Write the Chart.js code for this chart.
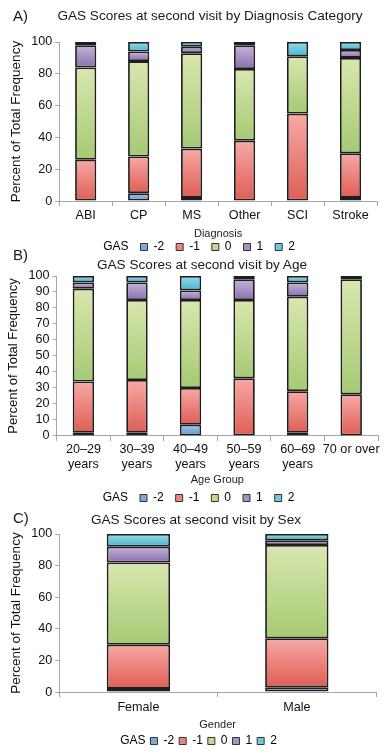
<!DOCTYPE html>
<html>
<head>
<meta charset="utf-8">
<script src="https://cdn.jsdelivr.net/npm/chart.js@4.4.0/dist/chart.umd.min.js"></script>
<style>
  body { margin: 0; background: #fff; font-family: "Liberation Sans", Arial, sans-serif; color: #1a1a1a; }
  .panel { position: absolute; left: 0; width: 386px; }
  .tag { position: absolute; left: 13px; font-size: 15px; line-height: 18px; }
  .title { position: absolute; font-size: 13.6px; line-height: 16px; white-space: nowrap; transform: translateX(-50%); }
</style>
</head>
<body>
<div class="panel" style="top:0;height:252px"><canvas id="chartA"></canvas></div>
<div class="panel" style="top:250px;height:254px"><canvas id="chartB"></canvas></div>
<div class="panel" style="top:504px;height:252px"><canvas id="chartC"></canvas></div>

<div class="tag" style="top:7px">A)</div>
<div class="title" style="top:8px;left:210px">GAS Scores at second visit by Diagnosis Category</div>
<div class="tag" style="top:246px">B)</div>
<div class="title" style="top:257px;left:202px">GAS Scores at second visit by Age</div>
<div class="tag" style="top:509px">C)</div>
<div class="title" style="top:512px;left:196px">GAS Scores at second visit by Sex</div>

<script>
const gasLevels = ['-2', '-1', '0', '1', '2'];

// A) diagnosis category
const diagnosisLabels = ['ABI', 'CP', 'MS', 'Other', 'SCI', 'Stroke'];
const diagMinus2 = [0, 5, 2, 0, 0, 2];
const diagMinus1 = [26, 23, 31, 38, 55, 28];
const diagZero   = [58, 60, 60, 45, 36, 60];
const diagPlus1  = [14, 6, 4, 15, 0, 5];
const diagPlus2  = [2, 6, 3, 2, 9, 5];

// B) age group
const ageLabels = [['20\u201329', 'years'], ['30\u201339', 'years'], ['40\u201349', 'years'],
                   ['50\u201359', 'years'], ['60\u201369', 'years'], '70 or over'];
const ageMinus2 = [2, 2, 7, 0, 2, 0];
const ageMinus1 = [32, 33, 23, 36, 26, 26];
const ageZero   = [58, 50, 55, 49, 59, 72];
const agePlus1  = [4, 11, 6, 13, 9, 2];
const agePlus2  = [4, 4, 9, 2, 4, 0];

// C) sex
const sexLabels = ['Female', 'Male'];
const sexMinus2 = [2, 3];
const sexMinus1 = [28, 31];
const sexZero   = [52, 59];
const sexPlus1  = [10, 3];
const sexPlus2  = [8, 4];

const lightColors = ['#a9c8ea', '#f7a9a5', '#d9e7af', '#c4b5db', '#94dcea'];
const darkColors  = ['#5b8fcb', '#de5e54', '#a5ca73', '#8a6fae', '#47b5cf'];
const legendColors = ['#7fa9dc', '#ec8580', '#c0d990', '#a892c5', '#6ec9df'];

Chart.defaults.font.family = '"Liberation Sans", Arial, sans-serif';
Chart.defaults.color = '#1a1a1a';

// each stacked segment gets its own light-to-dark vertical gradient
function segmentFill(level) {
    return function (ctx) {
        var chart = ctx.chart;
        if (!chart.chartArea || ctx.type !== 'data') return darkColors[level];
        var ds = chart.data.datasets;
        var start = 0;
        for (var k = 0; k < ctx.datasetIndex; k++) start += ds[k].data[ctx.dataIndex];
        var end = start + ds[ctx.datasetIndex].data[ctx.dataIndex];
        var y = chart.scales.y;
        var top = y.getPixelForValue(end);
        var bottom = y.getPixelForValue(start);
        if (!(bottom > top)) return darkColors[level];
        var g = chart.ctx.createLinearGradient(0, top, 0, bottom);
        g.addColorStop(0, lightColors[level]);
        g.addColorStop(1, darkColors[level]);
        return g;
    };
}

function makeChart(id, labels, series, opts) {
    var datasets = series.map(function (values, i) {
        return {
            label: gasLevels[i],
            data: values,
            backgroundColor: segmentFill(i),
            borderColor: '#1e1e1e',
            borderWidth: 1.8,
            borderSkipped: false,
            barPercentage: 0.4,
            categoryPercentage: 1
        };
    });

    // the legend sits right under the axis title, tighter than Chart.js lays it out
    var legendNudge = {
        id: 'legendNudge',
        afterLayout: function (chart) {
            chart.legend.top += opts.legendShift;
            chart.legend.bottom += opts.legendShift;
        }
    };

    return new Chart(document.getElementById(id), {
        type: 'bar',
        data: { labels: labels, datasets: datasets },
        plugins: [legendNudge],
        options: {
            responsive: true,
            maintainAspectRatio: false,
            animation: false,
            layout: { padding: opts.padding },
            plugins: {
                title: { display: false },
                tooltip: { enabled: false },
                legend: {
                    position: 'bottom',
                    onClick: null,
                    labels: {
                        boxWidth: 7,
                        boxHeight: 7,
                        padding: opts.legendGap,
                        color: '#1a1a1a',
                        font: { size: 12 },
                        generateLabels: function () {
                            var items = [{ text: 'GAS', fillStyle: 'rgba(0,0,0,0)', strokeStyle: 'rgba(0,0,0,0)',
                                           lineWidth: 0, hidden: false }];
                            gasLevels.forEach(function (g, i) {
                                items.push({ text: g, fillStyle: legendColors[i], strokeStyle: '#333',
                                             lineWidth: 1, hidden: false, datasetIndex: i });
                            });
                            return items;
                        }
                    }
                }
            },
            scales: {
                x: {
                    stacked: true,
                    border: { color: '#a6a6a6' },
                    grid: { offset: true, drawOnChartArea: false, tickLength: 5, color: '#a6a6a6' },
                    ticks: { font: { size: 12.6, lineHeight: 1.2 }, color: '#111', maxRotation: 0, autoSkip: false, padding: opts.tickPad },
                    title: { display: true, text: opts.xTitle, font: { size: 11 }, color: '#222', padding: { top: opts.xTitlePad, bottom: 0 } }
                },
                y: {
                    stacked: true,
                    min: 0,
                    max: 100,
                    border: { color: '#a6a6a6' },
                    grid: { drawOnChartArea: false, tickLength: 4, color: '#a6a6a6' },
                    ticks: { stepSize: opts.yStep, autoSkip: false, font: { size: 12.6 }, color: '#111', padding: 3 },
                    title: { display: true, text: 'Percent of Total Frequency', font: { size: opts.yTitleSize }, color: '#111', padding: { top: 0, bottom: 4 } }
                }
            }
        }
    });
}

makeChart('chartA', diagnosisLabels, [diagMinus2, diagMinus1, diagZero, diagPlus1, diagPlus2],
          { xTitle: 'Diagnosis', yStep: 20, yTitleSize: 13.5, legendGap: 12, legendShift: -11.4,
            tickPad: 2, xTitlePad: 2,
            padding: { top: 42, right: 9, bottom: -22.4, left: 8 } });
makeChart('chartB', ageLabels, [ageMinus2, ageMinus1, ageZero, agePlus1, agePlus2],
          { xTitle: 'Age Group', yStep: 10, yTitleSize: 13, legendGap: 12, legendShift: -6.4,
            tickPad: 1, xTitlePad: 0,
            padding: { top: 26, right: 8, bottom: -16.4, left: 6 } });
makeChart('chartC', sexLabels, [sexMinus2, sexMinus1, sexZero, sexPlus1, sexPlus2],
          { xTitle: 'Gender', yStep: 20, yTitleSize: 13.5, legendGap: 5, legendShift: -1.4,
            tickPad: 3, xTitlePad: 0,
            padding: { top: 30, right: 10, bottom: -2.4, left: 8 } });
</script>
</body>
</html>
